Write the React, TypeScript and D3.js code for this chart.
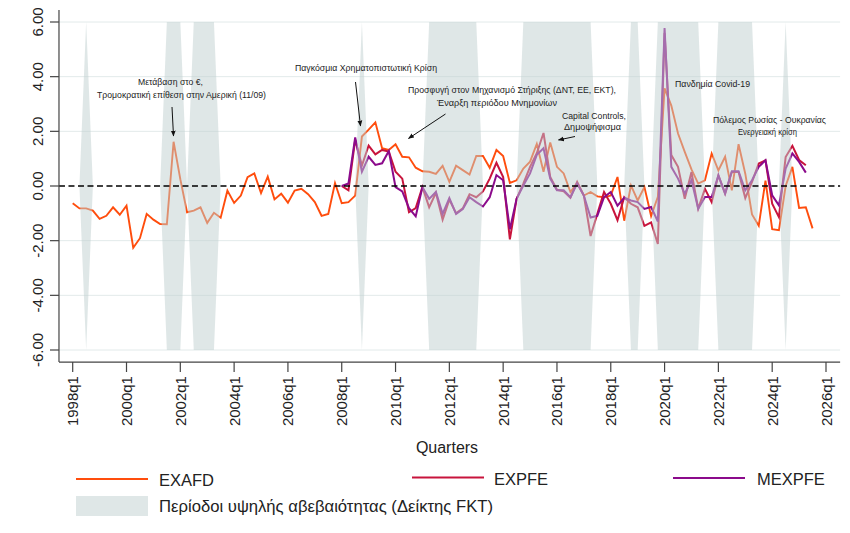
import React from "react";
import * as d3 from "d3";

// ---- Data (quarter index 0 = 1998q1) ----
const FIRST_YEAR = 1998;
const exafdStart = 0; // 1998q1
const exafd = [
  -0.63, -0.82, -0.82, -0.9, -1.2, -1.09, -0.78, -1.05, -0.72, -2.26,
  -1.91, -1.02, -1.23, -1.39, -1.4, 1.62, 0.25, -0.96, -0.9, -0.78,
  -1.35, -0.98, -1.16, -0.17, -0.62, -0.35, 0.32, 0.46, -0.26, 0.34,
  -0.49, -0.28, -0.61, -0.17, -0.1, -0.3, -0.59, -1.09, -1.02, 0.11,
  -0.63, -0.59, -0.35, 1.81, 2.06, 2.33, 1.38, 1.32, 1.53, 1.07,
  1.05, 0.67, 0.54, 0.52, 0.44, 0.74, 0.15, 0.74, 0.58, 0.42,
  1.1, 1.1, 0.67, 1.32, 1.1, 0.11, 0.21, 0.64, 0.89, 1.54,
  0.52, 1.59, 0.7, 0.46, -0.22, 0.11, -0.35, -0.22, -0.38, -0.41,
  -0.35, 0.33, -1.27, 0.02, -0.53, -0.04, -1.1, -0.4, 3.57, 2.94,
  1.92, 1.25, 0.61, 0.09, 0.21, 1.19, 0.57, 1.07, -0.16, 1.53,
  0.45, -1.04, -1.45, 0.2, -1.58, -1.62, 0.0, 0.7, -0.8, -0.78,
  -1.55,
];
const expfeStart = 40; // 2008q1
const expfe = [
  0.0, -0.16, 1.69, 0.75, 1.48, 1.16, 1.32, 1.26, 0.52, 0.27,
  -0.96, -0.81, -0.04, -0.78, -0.25, -1.23, -0.5, -1.0, -0.82, -0.3,
  -0.41, -0.2, 0.27, 0.85, 0.33, -1.95, -0.47, 0.09, 0.7, 1.2,
  1.94, 0.33, -0.14, -0.19, -0.43, 0.15, -0.35, -1.83, -1.02, -0.22,
  -0.65, -1.25, -0.41, -0.65, -0.78, -1.46, -1.33, -2.12, 5.6, 1.13,
  0.7, -0.47, 0.51, -0.83, -0.1, -0.59, 0.39, -0.28, 0.51, 0.51,
  -0.44, 0.15, 0.82, 0.94, -0.65, -1.14, 1.06, 1.47, 0.95, 0.76,
];
const mexpfeStart = 40; // 2008q1
const mexpfe = [
  0.0, 0.09, 1.78, 0.52, 1.07, 0.77, 0.83, 1.28, -0.04, -0.2,
  -0.81, -1.11, -0.04, -0.47, -0.22, -1.02, -0.44, -1.02, -0.84, -0.41,
  -0.59, -0.75, -0.41, 0.4, 0.21, -1.58, -0.47, 0.02, 0.46, 1.14,
  1.38, 0.27, -0.16, -0.16, -0.41, 0.09, -0.35, -1.15, -1.09, -0.41,
  -0.22, -0.72, -0.43, -0.53, -0.59, -0.84, -0.77, -1.3, 5.78, 0.7,
  0.27, -0.28, 0.21, -0.83, -0.4, -0.4, 0.39, -0.28, 0.54, 0.54,
  -0.16, 0.21, 0.7, 0.94, -0.34, -0.71, 0.64, 1.19, 0.88, 0.49,
];
// High uncertainty periods (FKT index), inclusive quarter ranges
const uncertaintyPeriods: [string, string][] = [
  ["1998q3", "1998q3"],
  ["2001q3", "2002q1"],
  ["2002q3", "2003q2"],
  ["2008q4", "2008q4"],
  ["2011q2", "2013q1"],
  ["2014q4", "2017q2"],
  ["2018q4", "2019q1"],
  ["2019q4", "2021q2"],
  ["2022q1", "2023q2"],
  ["2024q3", "2024q3"],
];
const xTickLabels = [
  "1998q1", "2000q1", "2002q1", "2004q1", "2006q1", "2008q1", "2010q1", "2012q1",
  "2014q1", "2016q1", "2018q1", "2020q1", "2022q1", "2024q1", "2026q1",
];
const yTicks = [6, 4, 2, 0, -2, -4, -6];
const bandLevel = 6;

type Note = { lines: { text: string; x: number; y: number; w: number }[]; arrow?: [number, number, number, number] };
const notes: Note[] = [
  {
    lines: [
      { text: "Μετάβαση στο €,", x: 138, y: 85, w: 65 },
      { text: "Τρομοκρατική επίθεση στην Αμερική (11/09)", x: 97, y: 97.5, w: 169 },
    ],
    arrow: [172, 107, 173.5, 136],
  },
  {
    lines: [{ text: "Παγκόσμια Χρηματοπιστωτική Κρίση", x: 295, y: 70.5, w: 142 }],
    arrow: [355.5, 82, 360.5, 126],
  },
  {
    lines: [
      { text: "Προσφυγή στον Μηχανισμό Στήριξης (ΔΝΤ, ΕΕ, ΕΚΤ),", x: 408, y: 93, w: 208 },
      { text: "Έναρξη περιόδου Μνημονίων", x: 437, y: 105.5, w: 120 },
    ],
    arrow: [445.5, 114, 408.5, 138.5],
  },
  {
    lines: [
      { text: "Capital Controls,", x: 562, y: 119, w: 64 },
      { text: "Δημοψήφισμα", x: 564, y: 130, w: 57 },
    ],
    arrow: [575, 136.5, 558.5, 140],
  },
  { lines: [{ text: "Πανδημία Covid-19", x: 675, y: 86.5, w: 75 }] },
  {
    lines: [
      { text: "Πόλεμος Ρωσίας - Ουκρανίας", x: 713, y: 123, w: 113 },
      { text: "Ενεργειακή κρίση", x: 738, y: 134.5, w: 59 },
    ],
  },
];

const qIndex = (q: string) => (parseInt(q.slice(0, 4)) - FIRST_YEAR) * 4 + (parseInt(q.slice(5)) - 1);

const COL_EXAFD = "#ff4d0d";
const COL_EXPFE = "#c8143c";
const COL_MEXPFE = "#8b0a8b";
const FONT = "'Liberation Sans', Arial, Helvetica, sans-serif";

export default function App() {
  const x = d3.scaleLinear().domain([0, 112]).range([72.7, 826]);
  const y = d3.scaleLinear().domain([-6, 6]).range([350, 22]);
  const xLeft = x(-2.04);
  const xRight = x(114.1);
  const yTop = y(6.44);
  const yBottom = y(-6.44);

  const nQ = exafdStart + exafd.length;
  const ind = d3.range(nQ).map((i) =>
    uncertaintyPeriods.some(([a, b]) => i >= qIndex(a) && i <= qIndex(b)) ? 1 : 0
  );
  const area = d3
    .area<number>()
    .x((_, i) => x(i))
    .y0((d) => y(-bandLevel * d))
    .y1((d) => y(bandLevel * d));

  const mkLine = (start: number) =>
    d3
      .line<number>()
      .x((_, i) => x(start + i))
      .y((d) => y(d));

  const series = [
    { data: exafd, start: exafdStart, color: COL_EXAFD, w: 1.9 },
    { data: expfe, start: expfeStart, color: COL_EXPFE, w: 2 },
    { data: mexpfe, start: mexpfeStart, color: COL_MEXPFE, w: 2 },
  ];

  return (
    <svg
      width={850}
      height={533}
      style={{ position: "absolute", left: 0, top: 0, background: "#fff" }}
      fontFamily={FONT}
    >
      <defs>
        <marker id="ah" viewBox="0 0 10 10" refX="9" refY="5" markerWidth="6" markerHeight="6" orient="auto">
          <path d="M0,1 L10,5 L0,9 z" fill="#111" />
        </marker>
      </defs>
      {/* gridlines */}
      {yTicks
        .filter((t) => t !== 0)
        .map((t) => (
          <line key={t} x1={xLeft} x2={xRight} y1={y(t)} y2={y(t)} stroke="#e2eaea" strokeWidth={1} />
        ))}
      {/* series */}
      {series.map((s, k) => (
        <path key={k} d={mkLine(s.start)(s.data) || ""} fill="none" stroke={s.color} strokeWidth={s.w} strokeLinejoin="miter" />
      ))}
      {/* uncertainty shading (overlay) */}
      <path d={area(ind) || ""} fill="#bfcfcf" fillOpacity={0.5} stroke="none" />
      {/* zero line */}
      <line x1={xLeft} x2={xRight} y1={y(0)} y2={y(0)} stroke="#000" strokeWidth={1.6} strokeDasharray="6,3.5" />
      {/* axes */}
      <line x1={xLeft} x2={xLeft} y1={yTop} y2={yBottom} stroke="#444" strokeWidth={1.2} />
      <line x1={xLeft} x2={xRight} y1={yBottom} y2={yBottom} stroke="#444" strokeWidth={1.2} />
      {yTicks.map((t) => (
        <g key={t}>
          <line x1={xLeft - 9} x2={xLeft} y1={y(t)} y2={y(t)} stroke="#444" strokeWidth={1.2} />
          <text
            transform={`translate(42.5,${y(t)}) rotate(-90)`}
            textAnchor="middle"
            fontSize={15}
            fill="#222"
          >
            {t.toFixed(2)}
          </text>
        </g>
      ))}
      {xTickLabels.map((lab) => {
        const xi = x(qIndex(lab));
        return (
          <g key={lab}>
            <line x1={xi} x2={xi} y1={yBottom} y2={yBottom + 10} stroke="#444" strokeWidth={1.2} />
            <text transform={`translate(${xi + 5.5},${yBottom + 14}) rotate(-90)`} textAnchor="end" fontSize={15} fill="#222">
              {lab}
            </text>
          </g>
        );
      })}
      <text x={447} y={453} textAnchor="middle" fontSize={16} fill="#222">
        Quarters
      </text>
      {/* annotations */}
      {notes.map((n, k) => (
        <g key={k}>
          {n.lines.map((l, j) => (
            <text key={j} x={l.x} y={l.y} fontSize={8.5} fill="#222" textLength={l.w} lengthAdjust="spacingAndGlyphs">
              {l.text}
            </text>
          ))}
          {n.arrow && (
            <line
              x1={n.arrow[0]}
              y1={n.arrow[1]}
              x2={n.arrow[2]}
              y2={n.arrow[3]}
              stroke="#111"
              strokeWidth={1}
              markerEnd="url(#ah)"
            />
          )}
        </g>
      ))}
      {/* legend */}
      <line x1={76} x2={148} y1={479} y2={479} stroke={COL_EXAFD} strokeWidth={1.8} />
      <text x={159} y={486} fontSize={16.5} fill="#222">EXAFD</text>
      <line x1={412} x2={484} y1={477.5} y2={477.5} stroke={COL_EXPFE} strokeWidth={1.8} />
      <text x={494} y={484.5} fontSize={16.5} fill="#222">EXPFE</text>
      <line x1={673} x2={745} y1={478} y2={478} stroke={COL_MEXPFE} strokeWidth={1.8} />
      <text x={757} y={485} fontSize={16.5} fill="#222">MEXPFE</text>
      <rect x={76} y={496} width={72} height={20} fill="#bfcfcf" fillOpacity={0.5} />
      <text x={159} y={512} fontSize={16.5} fill="#222" textLength={334} lengthAdjust="spacingAndGlyphs">
        Περίοδοι υψηλής αβεβαιότητας (Δείκτης FKT)
      </text>
    </svg>
  );
}
